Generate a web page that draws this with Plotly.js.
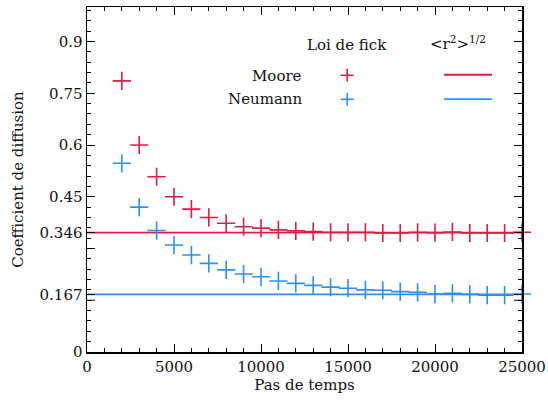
<!DOCTYPE html>
<html>
<head>
<meta charset="utf-8">
<script src="https://cdn.plot.ly/plotly-3.0.1.min.js"></script>
<style>html,body{margin:0;padding:0;background:#fff;}#chart{width:548px;height:400px;}</style>
</head>
<body>
<div id="chart"></div>
<script>
// ---- data ----
var steps = [2000,3000,4000,5000,6000,7000,8000,9000,10000,11000,12000,13000,14000,15000,16000,17000,18000,19000,20000,21000,22000,23000,24000,25000];
var moore = [0.786,0.600,0.508,0.450,0.414,0.390,0.373,0.363,0.359,0.354,0.351,0.349,0.347,0.347,0.347,0.345,0.345,0.347,0.346,0.348,0.345,0.345,0.345,0.347];
var neumann = [0.547,0.420,0.352,0.310,0.281,0.257,0.238,0.226,0.218,0.206,0.199,0.193,0.188,0.185,0.180,0.179,0.175,0.173,0.168,0.170,0.167,0.165,0.165,0.168];
var mooreRms = 0.346;
var neumannRms = 0.167;
var xRange = [0, 25000];
var yTickVals = [0, 0.167, 0.346, 0.45, 0.6, 0.75, 0.9];
var yTickText = ['0', '0.167', '0.346', '0.45', '0.6', '0.75', '0.9'];
var yUnlabeledMajor = [0.15, 0.3];
var xTickVals = [0, 5000, 10000, 15000, 20000, 25000];
var xTickText = ['0', '5000', '10000', '15000', '20000', '25000'];
var legendTitleFick = 'Loi de fick';
var legendTitleRms = '&lt;r<sup>2</sup>&gt;<sup>1/2</sup>';
var seriesNames = ['Moore', 'Neumann'];

var RED = '#dc1e46';
var BLUE = '#2a90f5';
var FONT = 'DejaVu Serif';
var FS = 15;

var traces = [
  {x: xRange, y: [mooreRms, mooreRms], mode: 'lines', line: {color: RED, width: 1.8}, hoverinfo: 'skip', showlegend: false},
  {x: xRange, y: [neumannRms, neumannRms], mode: 'lines', line: {color: BLUE, width: 1.8}, hoverinfo: 'skip', showlegend: false},
  {x: steps, y: moore, mode: 'markers', name: seriesNames[0], cliponaxis: false, marker: {symbol: 'cross-thin-open', size: 13, color: RED, line: {color: RED, width: 1.6}}, showlegend: false},
  {x: steps, y: neumann, mode: 'markers', name: seriesNames[1], cliponaxis: false, marker: {symbol: 'cross-thin-open', size: 13, color: BLUE, line: {color: BLUE, width: 1.6}}, showlegend: false}
];

var PW = 435.5, PH = 344.7;
function px(xp) { return (xp - 86.5) / PW; }
function py(yp) { return (352 - yp) / PH; }
function crossShapes(xp, yp, color) {
  // legend key glyph
  return [
    {type: 'line', xref: 'paper', yref: 'paper', x0: px(xp - 6.5), x1: px(xp + 6.5), y0: py(yp), y1: py(yp), line: {color: color, width: 1.6}},
    {type: 'line', xref: 'paper', yref: 'paper', x0: px(xp), x1: px(xp), y0: py(yp - 6.5), y1: py(yp + 6.5), line: {color: color, width: 1.6}}
  ];
}

var shapes = [].concat(
  crossShapes(347, 75.5, RED),
  crossShapes(347, 99.5, BLUE),
  [
    {type: 'line', xref: 'paper', yref: 'paper', x0: px(444), x1: px(492), y0: py(75), y1: py(75), line: {color: RED, width: 1.8}},
    {type: 'line', xref: 'paper', yref: 'paper', x0: px(444), x1: px(492), y0: py(99.3), y1: py(99.3), line: {color: BLUE, width: 1.8}}
  ]
);
yUnlabeledMajor.forEach(function (v) {
  shapes.push({type: 'line', xref: 'paper', yref: 'y', x0: 0, x1: 8 / PW, y0: v, y1: v, line: {color: '#000', width: 1}});
  shapes.push({type: 'line', xref: 'paper', yref: 'y', x0: 1 - 8 / PW, x1: 1, y0: v, y1: v, line: {color: '#000', width: 1}});
});

var annFont = {family: FONT, size: FS, color: '#111'};
var annotations = [
  {xref: 'paper', yref: 'paper', x: px(347), y: py(45), text: legendTitleFick, showarrow: false, xanchor: 'center', yanchor: 'middle', font: annFont},
  {xref: 'paper', yref: 'paper', x: px(458), y: py(43), text: legendTitleRms, showarrow: false, xanchor: 'center', yanchor: 'middle', font: annFont},
  {xref: 'paper', yref: 'paper', x: px(304), y: py(76), text: seriesNames[0], showarrow: false, xanchor: 'right', yanchor: 'middle', font: annFont},
  {xref: 'paper', yref: 'paper', x: px(304), y: py(99), text: seriesNames[1], showarrow: false, xanchor: 'right', yanchor: 'middle', font: annFont}
];

var layout = {
  width: 548, height: 400,
  margin: {l: 86.5, r: 26, t: 7.3, b: 48, pad: 0},
  paper_bgcolor: '#fff', plot_bgcolor: '#fff',
  font: {family: FONT, size: FS, color: '#111'},
  showlegend: false,
  xaxis: {
    range: xRange, tickmode: 'array', tickvals: xTickVals, ticktext: xTickText,
    ticks: 'inside', ticklen: 8, tickwidth: 1, tickcolor: '#000',
    showline: true, linecolor: '#000', linewidth: 1.5, mirror: 'allticks',
    showgrid: false, zeroline: false,
    tickfont: {family: FONT, size: FS},
    minor: {dtick: 1000, tick0: 0, ticks: 'inside', ticklen: 4, tickwidth: 1, tickcolor: '#000', showgrid: false},
    title: {text: 'Pas de temps', font: {family: FONT, size: FS}, standoff: 3}
  },
  yaxis: {
    range: [0, 1.0], tickmode: 'array', tickvals: yTickVals, ticktext: yTickText,
    ticks: 'inside', ticklen: 8, tickwidth: 1, tickcolor: '#000',
    showline: true, linecolor: '#000', linewidth: 1.5, mirror: 'allticks',
    showgrid: false, zeroline: false,
    tickfont: {family: FONT, size: FS},
    minor: {dtick: 0.03, tick0: 0, ticks: 'inside', ticklen: 4, tickwidth: 1, tickcolor: '#000', showgrid: false},
    title: {text: 'Coefficient de diffusion', font: {family: FONT, size: FS}, standoff: 12}
  },
  shapes: shapes,
  annotations: annotations
};

Plotly.newPlot('chart', traces, layout, {staticPlot: true, displayModeBar: false});
</script>
</body>
</html>
